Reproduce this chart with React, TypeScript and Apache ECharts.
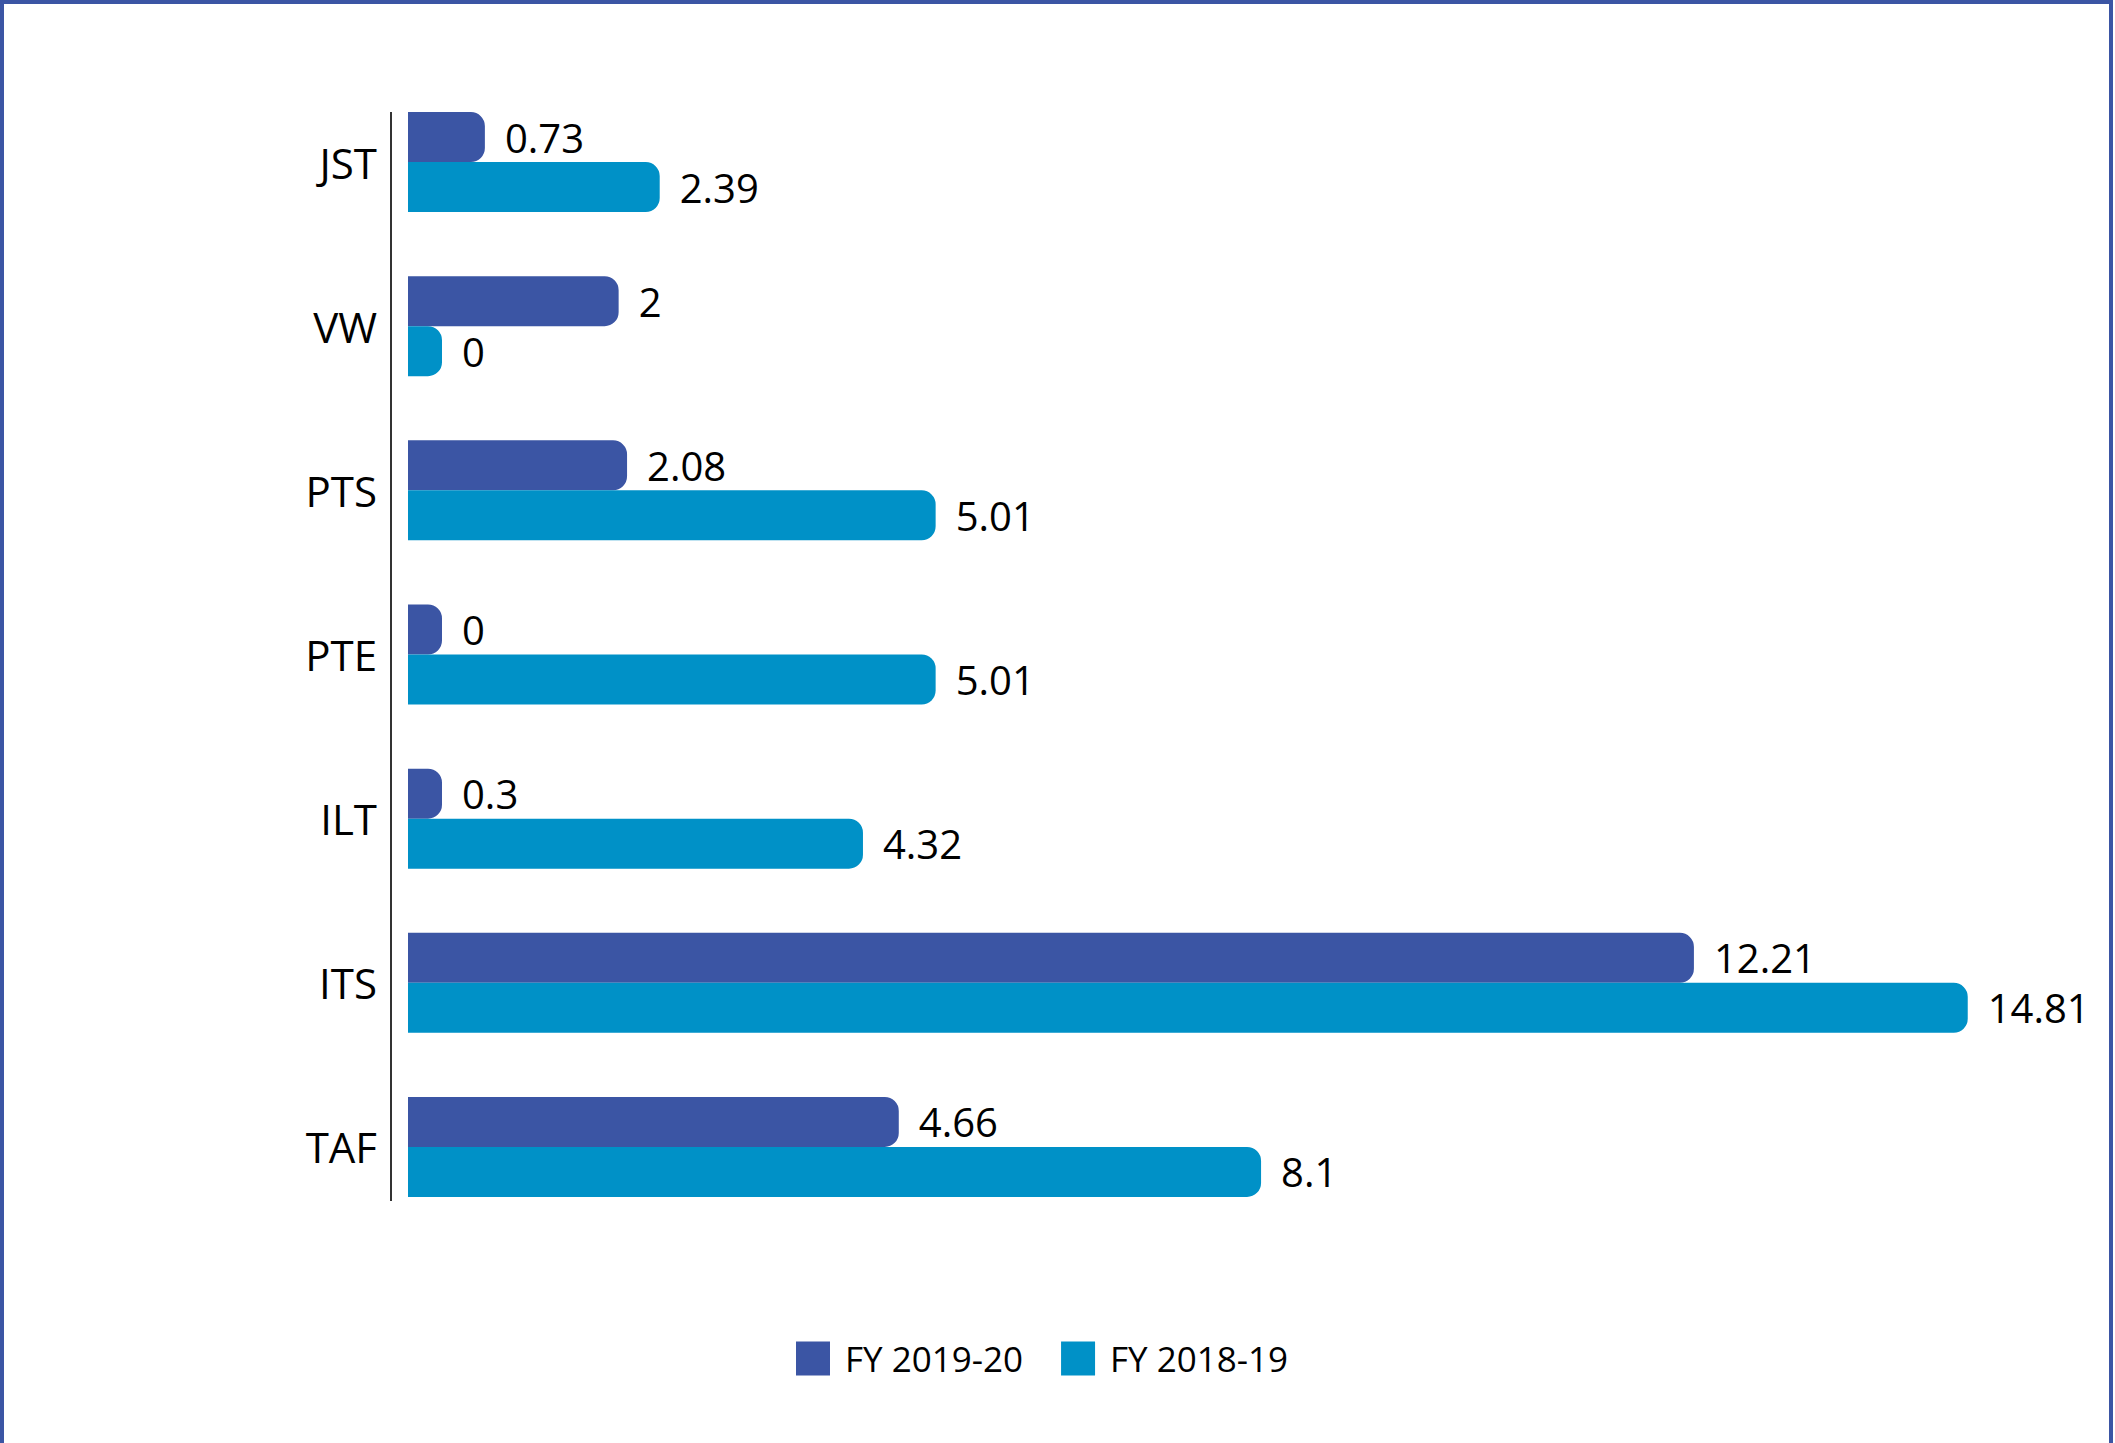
import React, { useEffect, useRef } from "react";
import * as echarts from "echarts";

const categories = ["JST", "VW", "PTS", "PTE", "ILT", "ITS", "TAF"];
const fy1920 = [0.73, 2, 2.08, 0, 0.3, 12.21, 4.66];
const fy1819 = [2.39, 0, 5.01, 5.01, 4.32, 14.81, 8.1];
const seriesNames = ["FY 2019-20", "FY 2018-19"];

const DARK = "#3B55A4";
const LIGHT = "#0091C7";
const FONT = "'Open Sans', 'Noto Sans', sans-serif";

export default function App() {
  const ref = useRef<HTMLDivElement>(null);
  useEffect(() => {
    if (!ref.current) return;
    const chart = echarts.init(ref.current, null, { renderer: "svg" });
    const label = {
      show: true,
      position: "right",
      distance: 20,
      fontSize: 40,
      color: "#000",
      fontFamily: FONT,
    };
    chart.setOption({
      animation: false,
      backgroundColor: "#fff",
      textStyle: { fontFamily: FONT },
      grid: { left: 408, top: 80, width: 1664, height: 1149, containLabel: false },
      xAxis: {
        type: "value",
        min: 0,
        max: 15.8,
        show: false,
      },
      yAxis: {
        type: "category",
        data: categories,
        inverse: true,
        axisLine: { show: false },
        axisTick: { show: false },
        axisLabel: { fontSize: 42, color: "#000", margin: 31, fontFamily: FONT, padding: [0, 0, 4, 0] },
      },
      legend: {
        left: 796,
        top: 1341,
        itemWidth: 34,
        itemHeight: 34,
        itemGap: 38,
        padding: 0,
        icon: "rect",
        textStyle: { fontSize: 35, color: "#000", fontFamily: FONT, padding: [0, 0, 0, 10] },
        data: seriesNames,
      },
      series: [
        {
          name: seriesNames[0],
          type: "bar",
          data: fy1920,
          barWidth: 50,
          barGap: "0%",
          barMinHeight: 34,
          itemStyle: { color: DARK, borderRadius: [0, 14, 14, 0] },
          label,
        },
        {
          name: seriesNames[1],
          type: "bar",
          data: fy1819,
          barWidth: 50,
          barGap: "0%",
          barMinHeight: 34,
          itemStyle: { color: LIGHT, borderRadius: [0, 14, 14, 0] },
          label,
        },
      ],
      graphic: [
        { type: "line", shape: { x1: 391, y1: 112, x2: 391, y2: 1201 }, style: { stroke: "#333", lineWidth: 2 } },
        { type: "rect", shape: { x: 0, y: 0, width: 4, height: 1443 }, style: { fill: DARK } },
        { type: "rect", shape: { x: 0, y: 0, width: 2113, height: 4 }, style: { fill: DARK } },
        { type: "rect", shape: { x: 2109, y: 0, width: 4, height: 1443 }, style: { fill: DARK } },
      ],
    });
    return () => chart.dispose();
  }, []);
  return (
    <div
      ref={ref}
      style={{ position: "fixed", left: 0, top: 0, width: 2115, height: 1443 }}
    />
  );
}
